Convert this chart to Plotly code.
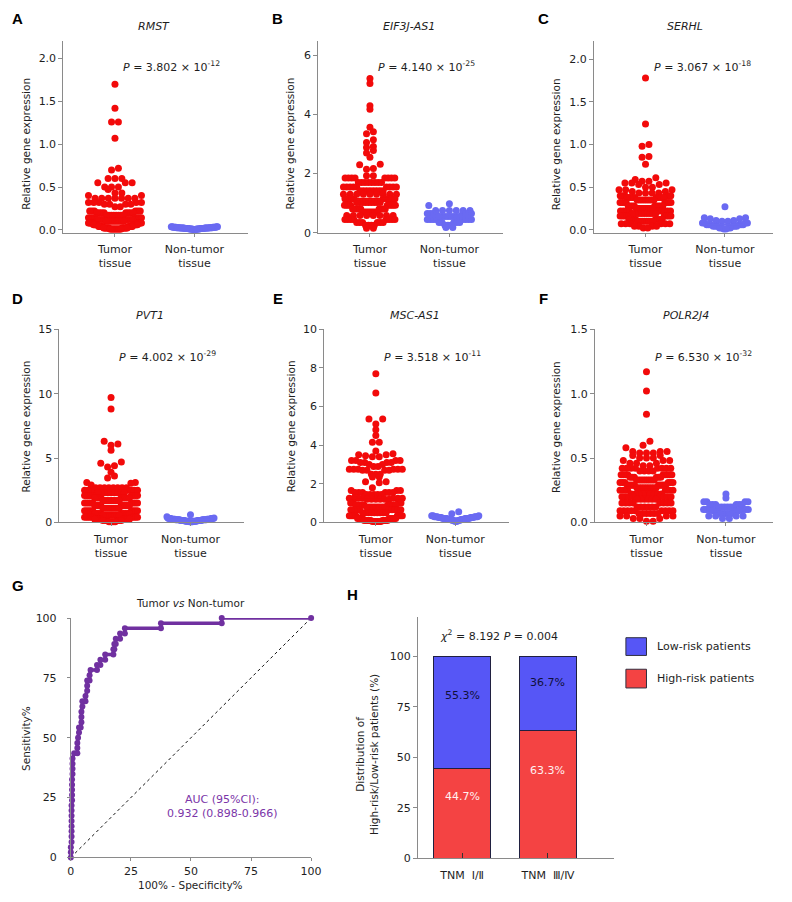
import numpy as np
import plotly.graph_objects as go

# ---- swarm data: value levels and how many samples sit at each level ----
rmst_tumor_lv = [1.70, 1.42, 1.26, 1.07, 0.72, 0.70, 0.60, 0.55, 0.50, 0.47, 0.43, 0.40, 0.37, 0.32,
                 0.30, 0.27, 0.22, 0.20, 0.17, 0.14, 0.12, 0.10, 0.08, 0.06, 0.04, 0.02, 0.01]
rmst_tumor_n = [1, 1, 2, 1, 1, 1, 3, 3, 3, 1, 2, 2, 7, 5, 4, 2, 6, 8, 8, 8, 8, 9, 9, 10, 10, 12, 12]
rmst_normal_lv = [0.035, 0.03, 0.025, 0.02, 0.015, 0.01, 0.005]
rmst_normal_n = [4, 8, 8, 10, 10, 8, 4]

eif_tumor_lv = [5.22, 5.05, 4.30, 4.18, 3.57, 3.42, 3.35, 3.15, 3.05, 2.92, 2.88, 2.78, 2.70, 2.55,
                2.32, 2.30, 2.17, 2.15, 1.93, 1.85, 1.70, 1.55, 1.42, 1.30, 1.15, 1.02, 0.93, 0.80,
                0.70, 0.58, 0.45, 0.35, 0.25, 0.15]
eif_tumor_n = [1, 1, 1, 1, 1, 1, 1, 1, 1, 1, 1, 1, 1, 1, 1, 1, 1, 1, 2, 8, 8, 9, 8, 9, 9, 9, 9, 9,
               8, 8, 8, 6, 4, 2]
eif_normal_lv = [0.98, 0.92, 0.75, 0.65, 0.55, 0.45, 0.35, 0.25, 0.18]
eif_normal_n = [1, 1, 6, 8, 8, 8, 5, 3, 2]

serhl_tumor_lv = [1.78, 1.24, 1.00, 0.98, 0.86, 0.85, 0.77, 0.61, 0.59, 0.57, 0.55, 0.53, 0.50, 0.47,
                  0.45, 0.43, 0.40, 0.38, 0.35, 0.32, 0.28, 0.25, 0.22, 0.19, 0.16, 0.12, 0.10, 0.07,
                  0.04, 0.02]
serhl_tumor_n = [1, 1, 1, 1, 1, 1, 1, 1, 1, 2, 3, 2, 2, 3, 2, 4, 6, 8, 8, 8, 9, 9, 9, 9, 8, 8, 8, 6, 4, 2]
serhl_normal_lv = [0.27, 0.14, 0.13, 0.11, 0.10, 0.08, 0.06, 0.04, 0.02, 0.01]
serhl_normal_n = [1, 2, 2, 2, 2, 4, 6, 6, 4, 2]

pvt1_tumor_lv = [9.7, 8.8, 6.3, 6.1, 6.0, 5.6, 4.7, 4.6, 4.4, 4.3, 3.9, 3.6, 3.45, 3.1, 3.05, 2.9,
                 2.7, 2.5, 2.3, 2.1, 1.9, 1.7, 1.5, 1.3, 1.1, 0.9, 0.7, 0.55, 0.4, 0.25, 0.15, 0.05]
pvt1_tumor_n = [1, 1, 1, 1, 1, 1, 1, 1, 1, 1, 1, 1, 1, 2, 1, 1, 8, 8, 9, 9, 9, 9, 9, 9, 9, 9, 9, 9,
                9, 8, 6, 4]
pvt1_normal_lv = [0.6, 0.45, 0.35, 0.3, 0.25, 0.2, 0.15, 0.1, 0.05]
pvt1_normal_n = [1, 1, 2, 6, 8, 10, 10, 8, 4]

msc_tumor_lv = [7.7, 6.7, 5.35, 5.1, 4.8, 4.5, 4.15, 3.7, 3.55, 3.5, 3.45, 3.4, 3.2, 3.1, 3.0, 2.9,
                2.75, 2.7, 2.5, 2.35, 2.1, 2.05, 1.8, 1.65, 1.55, 1.45, 1.25, 1.2, 1.0, 0.9, 0.8,
                0.65, 0.5, 0.35, 0.2, 0.1, 0.05]
msc_tumor_n = [1, 1, 2, 1, 1, 1, 2, 1, 1, 2, 1, 2, 4, 4, 2, 2, 6, 4, 3, 2, 2, 1, 1, 3, 6, 5, 7, 6,
               4, 8, 8, 9, 9, 9, 9, 9, 6]
msc_normal_lv = [0.55, 0.45, 0.35, 0.3, 0.25, 0.2, 0.15, 0.1, 0.05]
msc_normal_n = [1, 1, 3, 6, 6, 8, 6, 4, 2]

polr_tumor_lv = [1.17, 1.02, 0.84, 0.63, 0.60, 0.58, 0.55, 0.54, 0.52, 0.50, 0.48, 0.46, 0.44, 0.42,
                 0.40, 0.37, 0.35, 0.33, 0.31, 0.29, 0.27, 0.25, 0.22, 0.20, 0.18, 0.15, 0.12, 0.09,
                 0.07, 0.05, 0.03, 0.01]
polr_tumor_n = [1, 1, 1, 1, 1, 1, 3, 3, 2, 3, 3, 3, 2, 8, 4, 9, 6, 9, 6, 8, 9, 6, 9, 8, 6, 8, 6, 9,
                6, 4, 3, 2]
polr_normal_lv = [0.22, 0.19, 0.16, 0.14, 0.12, 0.10, 0.09, 0.07, 0.05, 0.03]
polr_normal_n = [1, 1, 4, 6, 6, 8, 6, 6, 4, 2]

genes = ['RMST', 'EIF3J-AS1', 'SERHL', 'PVT1', 'MSC-AS1', 'POLR2J4']
p_values = ['3.802 × 10<sup>-12</sup>', '4.140 × 10<sup>-25</sup>', '3.067 × 10<sup>-18</sup>',
            '4.002 × 10<sup>-29</sup>', '3.518 × 10<sup>-11</sup>', '6.530 × 10<sup>-32</sup>']
groups = ['Tumor<br>tissue', 'Non-tumor<br>tissue']

# ---- ROC curve (100% - specificity, sensitivity) ----
roc_fpr = [0, 0, 0, 0.3, 0.3, 0.3, 0.3, 0.3, 0.3, 0.3, 0.3, 0.5, 0.5, 0.5, 0.5, 0.5, 0.7, 0.7, 0.7,
           0.7, 1.4, 2.7, 2.7, 2.7, 3.0, 3.4, 3.4, 4.1, 4.4, 4.4, 4.4, 4.8, 4.8, 6.1, 6.1, 6.8, 6.8,
           6.8, 7.8, 7.8, 8.2, 10.9, 10.9, 12.3, 12.3, 14.3, 14.3, 17.7, 17.7, 18.1, 18.1, 18.7,
           18.7, 20.5, 20.5, 22.5, 22.5, 37.5, 37.5, 62.8, 62.8, 100]
roc_tpr = [0, 2.2, 4.3, 6.5, 8.7, 10.9, 13.0, 15.2, 17.4, 19.6, 21.7, 23.9, 26.1, 28.3, 30.4, 32.6,
           34.8, 37.0, 39.1, 41.3, 43.5, 43.5, 45.7, 47.8, 50.0, 52.2, 54.3, 54.3, 56.5, 58.7, 60.9,
           63.0, 65.2, 65.2, 67.4, 69.6, 71.7, 73.9, 73.9, 76.1, 78.3, 78.3, 80.4, 80.4, 82.6, 82.6,
           84.8, 84.8, 87.0, 87.0, 89.1, 89.1, 91.3, 91.3, 93.5, 93.5, 95.7, 95.7, 97.8, 97.8, 100,
           100]
chance = [0, 100]

# ---- TNM stage risk distribution (%) ----
stages = ['TNM  Ⅰ/Ⅱ', 'TNM  Ⅲ/Ⅳ']
high_risk = [44.7, 63.3]
low_risk = [55.3, 36.7]

# the page keeps its default 8px body margin, so the figure is 16px smaller
# than the 792x902 window and every position below is in window pixels
OFF = 8
W, H = 792 - 2 * OFF, 902 - 2 * OFF
RED = '#f20a0a'
BLUE = '#6a6af2'
PURPLE = '#7030a0'
BAR_RED = '#f44343'
BAR_BLUE = '#5656f6'
GRAY = '#8a8a8a'
FONT = 'DejaVu Sans'
TXT = '#1e1e1e'


def px(x):
    return min(max((x - OFF) / W, 0.0), 1.0)


def py(y):
    return min(max(1 - (y - OFF) / H, 0.0), 1.0)


def swarm(vals, ys, xs, diam=7.0, half=27.0):
    """prism-like column scatter: bin by pixel row, spread each row sideways,
    smallest values in the middle so dense rows turn into chevrons"""
    vals = np.asarray(vals, float)
    off = np.zeros(len(vals))
    rows = np.floor(vals * ys / diam).astype(int)
    for r in np.unique(rows):
        idx = np.where(rows == r)[0]
        idx = idx[np.argsort(vals[idx], kind='stable')]
        m = len(idx)
        step = diam if m < 2 else min(diam, 2 * half / (m - 1 + (m % 2 == 0)))
        for j, i in enumerate(idx):
            if m % 2:
                k = (j + 1) // 2
            else:
                k = j // 2 + 0.5
            off[i] = k * step * (1 if j % 2 else -1)
    return off / xs


data = [
    (np.repeat(rmst_tumor_lv, rmst_tumor_n), np.repeat(rmst_normal_lv, rmst_normal_n)),
    (np.repeat(eif_tumor_lv, eif_tumor_n), np.repeat(eif_normal_lv, eif_normal_n)),
    (np.repeat(serhl_tumor_lv, serhl_tumor_n), np.repeat(serhl_normal_lv, serhl_normal_n)),
    (np.repeat(pvt1_tumor_lv, pvt1_tumor_n), np.repeat(pvt1_normal_lv, pvt1_normal_n)),
    (np.repeat(msc_tumor_lv, msc_tumor_n), np.repeat(msc_normal_lv, msc_normal_n)),
    (np.repeat(polr_tumor_lv, polr_tumor_n), np.repeat(polr_normal_lv, polr_normal_n)),
]

# layout of the six swarm panels (pixels)
tumor_x = [113, 373, 654, 109, 379, 655]
row_y = [(35, 230), (328, 524)]
yranges = [[-0.034, 2.21], [0, 6.5], [-0.035, 2.22], [0, 15], [0, 10], [0, 1.5]]
ydticks = [0.5, 2, 0.5, 5, 2, 0.5]
yfmts = ['.1f', 'd', '.1f', 'd', 'd', '.1f']
col_title_x = [22, 292, 563]
col_letter_x = [14, 279, 550]
letters = 'ABCDEF'
XR = [-0.65, 1.68]
XS = 81.0

fig = go.Figure()
annotations = []
axis_base = dict(showline=True, linecolor=GRAY, linewidth=1, ticks='outside', tickcolor=GRAY,
                 ticklen=4, showgrid=False, zeroline=False,
                 tickfont=dict(family=FONT, size=11, color=TXT))
layout_axes = {}


def ann(text, x, y, size=11, color=TXT, family=FONT, **kw):
    d = dict(text=text, x=px(x), y=py(y), xref='paper', yref='paper', showarrow=False,
             xanchor='center', yanchor='middle',
             font=dict(family=family, size=size, color=color))
    d.update(kw)
    annotations.append(d)


for k in range(6):
    n = k + 1
    xa, ya = ('x', 'y') if n == 1 else (f'x{n}', f'y{n}')
    row, col = divmod(k, 3)
    ytop, ybot = row_y[row]
    tc = tumor_x[k]
    yr = yranges[k]
    ys = (ybot - ytop) / (yr[1] - yr[0])
    tumor, normal = data[k]

    for gi, (vals, color, half) in enumerate([(tumor, RED, 27.0), (normal, BLUE, 24.0)]):
        xoff = swarm(vals, ys, XS, half=half)
        fig.add_trace(go.Scatter(
            x=gi + xoff, y=vals, mode='markers', xaxis=xa, yaxis=ya,
            marker=dict(size=7, color=color, line=dict(width=0)),
            cliponaxis=False, showlegend=False, hoverinfo='y'))
        med = float(np.median(vals))
        fig.add_trace(go.Scatter(
            x=[gi - 0.25, gi + 0.25], y=[med, med], mode='lines', xaxis=xa, yaxis=ya,
            line=dict(color=color, width=2), showlegend=False, hoverinfo='skip'))

    # right-hand panels would run past the figure edge: stop the axis there
    left_px = tc + XR[0] * XS
    right_px = min(tc + XR[1] * XS, OFF + W)
    layout_axes['xaxis' if n == 1 else f'xaxis{n}'] = dict(
        axis_base, domain=[px(left_px), px(right_px)],
        range=[XR[0], (right_px - tc) / XS],
        tickvals=[0, 1], ticktext=groups, ticklen=3, anchor=ya, ticklabelstandoff=3)
    layout_axes['yaxis' if n == 1 else f'yaxis{n}'] = dict(
        axis_base, domain=[py(ybot), py(ytop)], range=yr, tick0=0, dtick=ydticks[k],
        tickformat=yfmts[k], anchor=xa)

    ann(f'<i>{genes[k]}</i>', tc + 40, ytop - 14, size=11)
    ann(f'<i>P</i> = {p_values[k]}', tc + 58, 61 if row == 0 else 356, size=11)
    ann('Relative gene expression', col_title_x[col], 140 if row == 0 else 427, size=10.5,
        textangle=-90)
    ann(f'<b>{letters[k]}</b>', col_letter_x[col], 13 if row == 0 else 297, size=15,
        family='Liberation Sans', color='#000')

# ---- G: ROC ----
fig.add_trace(go.Scatter(x=chance, y=chance, mode='lines', xaxis='x7', yaxis='y7',
                         line=dict(color='#111', width=1, dash='dot'), showlegend=False,
                         hoverinfo='skip'))
fig.add_trace(go.Scatter(x=roc_fpr, y=roc_tpr, mode='lines+markers', xaxis='x7', yaxis='y7',
                         line=dict(color=PURPLE, width=3.5), marker=dict(size=6, color=PURPLE),
                         cliponaxis=False, showlegend=False))
layout_axes['xaxis7'] = dict(axis_base, domain=[px(68), px(313)], range=[0, 100], tick0=0,
                             dtick=25, anchor='y7', ticklen=3)
layout_axes['yaxis7'] = dict(axis_base, domain=[py(864), py(621)], range=[0, 100], tick0=0,
                             dtick=25, anchor='x7', ticklen=3, ticklabelstandoff=8)
ann('Tumor <i>vs</i> Non-tumor', 190, 606, size=10.5)
ann('100% - Specificity%', 190, 892, size=10.5)
ann('Sensitivity%', 22, 743, size=10.5, textangle=-90)
ann('AUC (95%CI):<br>0.932 (0.898-0.966)', 223, 812, size=11, color='#7b35a8')
ann('<b>G</b>', 14, 588, size=15, family='Liberation Sans', color='#000')

# ---- H: stacked bars ----
xs_bar = [0, 1]
fig.add_trace(go.Bar(x=xs_bar, y=high_risk, xaxis='x8', yaxis='y8', width=0.663,
                     marker=dict(color=BAR_RED, line=dict(color='#202040', width=1)),
                     name='High-risk patients', showlegend=False))
fig.add_trace(go.Bar(x=xs_bar, y=low_risk, xaxis='x8', yaxis='y8', width=0.663,
                     marker=dict(color=BAR_BLUE, line=dict(color='#202040', width=1)),
                     name='Low-risk patients', showlegend=False))
for i in range(2):
    annotations.append(dict(text=f'{high_risk[i]}%', x=xs_bar[i], y=0.69 * high_risk[i],
                            xref='x8', yref='y8', showarrow=False,
                            font=dict(family=FONT, size=11, color='#fff0f0')))
    annotations.append(dict(text=f'{low_risk[i]}%', x=xs_bar[i],
                            y=high_risk[i] + 0.65 * low_risk[i], xref='x8', yref='y8',
                            showarrow=False, font=dict(family=FONT, size=11, color='#10103a')))
layout_axes['xaxis8'] = dict(axis_base, domain=[px(422), px(622)], range=[-0.514, 1.771],
                             tickvals=xs_bar, ticktext=stages, ticks='inside', ticklen=5,
                             tickcolor='#333', anchor='y8', ticklabelstandoff=6)
layout_axes['yaxis8'] = dict(axis_base, domain=[py(865), py(620)], range=[0, 119.5], tick0=0,
                             dtick=25, anchor='x8', tickvals=[0, 25, 50, 75, 100])
ann('<i>χ</i><sup>2</sup> = 8.192 <i>P</i> = 0.004', 505, 639, size=11)
ann('Distribution of<br>High-risk/Low-risk patients (%)', 370, 760, size=10.5, textangle=-90)
ann('<b>H</b>', 355, 597, size=15, family='Liberation Sans', color='#000')

# legend boxes for H
shapes = []
for (label, color, y0, y1) in [('Low-risk patients', BAR_BLUE, 641, 659),
                               ('High-risk patients', BAR_RED, 673, 692)]:
    shapes.append(dict(type='rect', xref='paper', yref='paper', x0=px(634), x1=px(655),
                       y0=py(y1), y1=py(y0), fillcolor=color,
                       line=dict(color='#303040', width=1)))
    ann(label, 664, (y0 + y1) / 2, size=11, xanchor='left')

fig.update_layout(
    width=W, height=H, margin=dict(l=0, r=0, t=0, b=0),
    paper_bgcolor='white', plot_bgcolor='white', barmode='stack',
    annotations=annotations, shapes=shapes, showlegend=False,
    font=dict(family=FONT, size=11, color=TXT),
    **layout_axes,
)

fig.write_html('out.html', config={'displayModeBar': False})
